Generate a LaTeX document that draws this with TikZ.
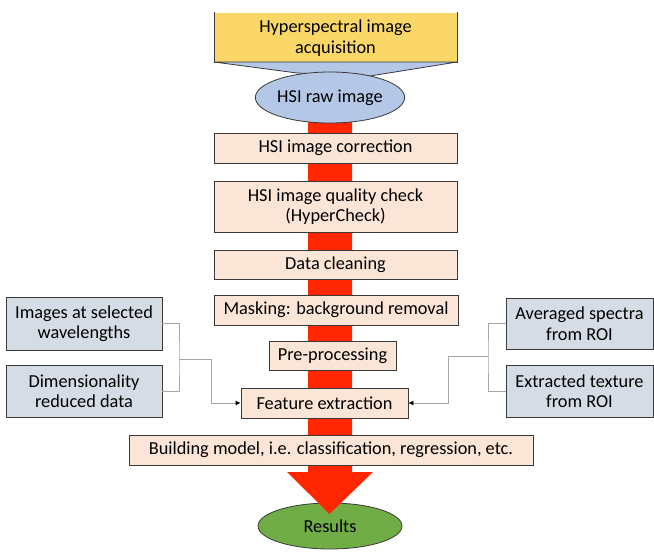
\documentclass[tikz,border=0pt]{standalone}
\usepackage{fontspec}
\setmainfont{Carlito}
\usetikzlibrary{arrows.meta,shapes.geometric}
\definecolor{peach}{HTML}{FBE5D6}
\definecolor{grayblue}{HTML}{D6DCE5}
\definecolor{gold}{HTML}{FAD767}
\definecolor{lightblue}{HTML}{B4C7E7}
\definecolor{green}{HTML}{70AD47}
\definecolor{redarrow}{HTML}{FF2600}
\definecolor{bord}{HTML}{3A3A3A}
\definecolor{conn}{HTML}{A6A6A6}
\tikzset{
  txt/.style={font=\fontsize{18.3}{20.5}\selectfont, align=center, inner sep=0pt},
  pbox/.style={txt, draw=bord, fill=peach, line width=0.8pt, rectangle},
  gbox/.style={txt, draw=bord, fill=grayblue, line width=0.8pt, rectangle},
  ell/.style={txt, draw=bord, line width=0.8pt, ellipse},
  link/.style={draw=conn, line width=0.8pt},
  linkarrow/.style={link, -{Latex[length=5pt,width=5pt,black]}}
}
\begin{document}
\begin{tikzpicture}[x=1pt,y=-1pt]
\useasboundingbox (0,0) rectangle (654,552);
% top box
\node[txt, fill=gold, minimum width=243pt, minimum height=50pt] (acq) at (335.5,38) {Hyperspectral image\\acquisition};
\draw[bord, line width=0.8pt] (214,12) -- (214,62) -- (457,62) -- (457,12);
% callout
\draw[fill=lightblue, draw=bord, line width=0.8pt] (214,62) -- (457,62) -- (370,76) -- (297,73) -- cycle;
% results ellipse (under arrow)
\node[ell, fill=green, minimum width=144pt, minimum height=46pt] (res) at (330,526) {Results};
% red arrow
\fill[redarrow] (308,110) -- (352,110) -- (352,472) -- (373,472) -- (329.5,514) -- (287,472) -- (308,472) -- cycle;
% raw ellipse
\node[ell, fill=lightblue, minimum width=144pt, minimum height=51pt] (raw) at (330,97.5) {HSI raw image};
% process boxes
\node[pbox, minimum width=243pt, minimum height=30pt] (corr) at (335.5,148) {HSI image correction};
\node[pbox, minimum width=243pt, minimum height=51pt] (qc) at (335.5,206.5) {HSI image quality check\\(HyperCheck)};
\node[pbox, minimum width=243pt, minimum height=29pt] (clean) at (335.5,264.5) {Data cleaning};
\node[pbox, minimum width=244pt, minimum height=30pt] (mask) at (336,310) {Masking: background removal};
\node[pbox, minimum width=127pt, minimum height=29pt] (pre) at (332.5,355.5) {Pre-processing};
\node[pbox, minimum width=167pt, minimum height=30pt] (fe) at (324.5,403) {Feature extraction};
\node[pbox, minimum width=404pt, minimum height=30pt] (build) at (331,450) {Building model, i.e. classification, regression, etc.};
% side boxes
\node[gbox, minimum width=156pt, minimum height=53pt] (imgs) at (84,323.5) {Images at selected\\wavelengths};
\node[gbox, minimum width=156pt, minimum height=52pt] (dim) at (84,391) {Dimensionality\\reduced data};
\node[gbox, minimum width=147pt, minimum height=51pt] (avg) at (579.5,323.5) {Averaged spectra\\from ROI};
\node[gbox, minimum width=147pt, minimum height=52pt] (ext) at (579.5,391) {Extracted texture\\from ROI};
% connectors left
\coordinate (lb) at (179,359);
\coordinate (lc) at (211,359);
\draw[link] (imgs.east) -| (lb) |- (dim.east);
\draw[linkarrow] (lb) -- (lc) |- (fe.west);
% connectors right
\coordinate (rb) at (488,356);
\coordinate (rc) at (448,356);
\draw[link] (avg.west) -| (rb) |- (ext.west);
\draw[linkarrow] (rb) -- (rc) |- (fe.east);
\end{tikzpicture}
\end{document}
